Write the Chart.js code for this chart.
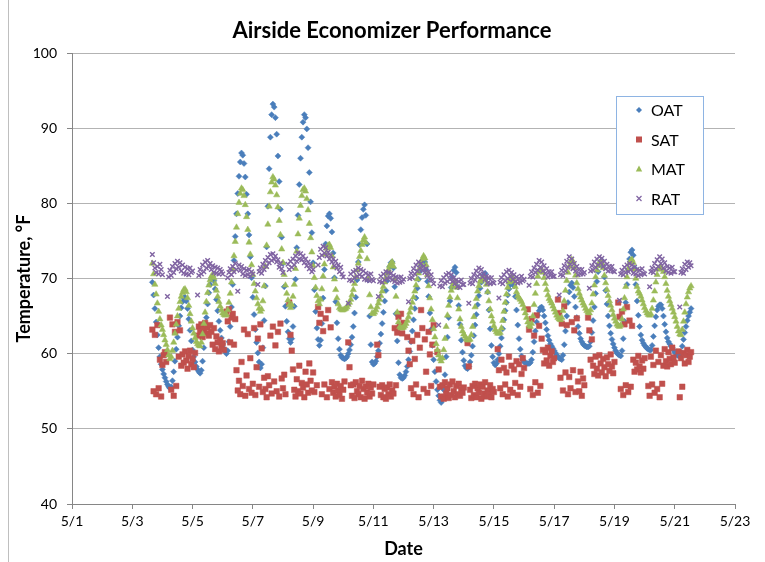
<!DOCTYPE html>
<html>
<head>
<meta charset="utf-8">
<title>Airside Economizer Performance</title>
<script src="https://cdn.jsdelivr.net/npm/chart.js@4.4.1/dist/chart.umd.min.js"></script>
<style>
  html, body { margin: 0; padding: 0; background: #fff; }
</style>
</head>
<body>
<canvas id="chart" width="765" height="562"></canvas>
<script>
// Tick labels for the date axis (every 2 days)
const dateLabels = ['5/1', '5/3', '5/5', '5/7', '5/9', '5/11', '5/13', '5/15', '5/17', '5/19', '5/21', '5/23'];

// First sample is 5/3 16:00, counted in hours from 5/1 00:00. All series hourly.
const firstHour = 64;

// Outside air temperature
const oat = [
    69.5, 67.8, 66.0, 64.2, 62.5, 60.8, 59.6, 58.6,
    57.9, 57.3, 56.8, 56.3, 55.9, 55.6, 55.4, 55.6, 56.4, 57.6, 59.0, 60.6, 62.2, 63.7, 65.0, 66.1, 66.9, 67.4, 67.5, 67.0, 66.0, 64.6, 63.1, 61.7,
    60.5, 59.6, 58.9, 58.3, 57.9, 57.6, 57.4, 57.8, 59.0, 60.8, 62.8, 64.8, 66.6, 68.1, 69.2, 69.9, 70.2, 69.7, 68.6, 67.2, 65.7, 64.3, 63.1, 62.1,
    61.3, 60.7, 60.3, 60.0, 60.4, 61.6, 63.6, 66.2, 69.2, 72.4, 75.6, 78.6, 81.3, 83.6, 85.5, 86.7, 86.4, 85.3, 83.5, 81.2, 78.6, 75.8, 72.9, 70.1,
    67.5, 65.2, 63.2, 61.5, 60.1, 58.9, 58.1, 58.6, 60.8, 64.4, 69.0, 74.2, 79.6, 84.6, 88.8, 91.8, 93.2, 92.8, 91.4, 89.2, 86.3, 82.9, 79.2, 75.5,
    72.0, 68.9, 66.3, 64.3, 62.9, 62.0, 61.5, 62.0, 63.6, 66.3, 69.9, 74.1, 78.4, 82.5, 86.0, 88.8, 90.8, 91.8, 91.4, 89.9, 87.4, 84.1, 80.2, 76.1,
    72.1, 68.5, 65.6, 63.4, 61.9, 61.1, 61.8, 64.0, 67.4, 71.2, 74.6, 77.0, 78.3, 78.6, 78.0, 76.2, 73.4, 70.1, 66.9, 64.1, 62.0, 60.6, 59.8, 59.5,
    59.4, 59.3, 59.4, 59.6, 60.0, 60.5, 61.2, 62.2, 63.6, 65.4, 67.5, 69.8, 72.2, 74.5, 76.5, 78.1, 79.2, 79.8, 78.4, 74.6, 69.8, 65.0, 61.2, 58.9,
    58.6, 58.7, 59.0, 59.6, 60.4, 61.4, 62.6, 64.0, 65.5, 67.0, 68.4, 69.7, 70.8, 71.6, 72.1, 72.2, 71.4, 68.9, 65.3, 61.7, 58.8, 57.2, 56.8, 56.7,
    56.8, 57.1, 57.6, 58.3, 59.2, 60.3, 61.6, 63.0, 64.5, 66.0, 67.4, 68.7, 69.9, 70.9, 71.7, 72.2, 72.5, 72.2, 71.2, 69.6, 67.6, 65.4, 63.2, 61.1,
    59.2, 57.6, 56.3, 55.2, 54.4, 53.8, 53.5, 53.9, 55.2, 57.2, 59.6, 62.2, 64.8, 67.0, 68.8, 70.2, 71.1, 71.5, 70.8, 68.9, 66.4, 63.9, 61.8, 60.2,
    59.1, 58.4, 58.1, 58.0, 58.3, 58.9, 59.8, 61.0, 62.4, 63.8, 65.2, 66.5, 67.7, 68.7, 69.5, 70.1, 70.5, 70.7, 70.0, 68.2, 65.8, 63.3, 61.1, 59.6,
    58.8, 58.5, 58.7, 59.2, 60.0, 61.0, 62.1, 63.3, 64.5, 65.7, 66.8, 67.8, 68.6, 69.2, 69.5, 69.6, 69.0, 67.6, 65.8, 63.8, 62.0, 60.6, 59.7, 59.2,
    58.9, 58.8, 58.7, 58.7, 58.7, 58.8, 59.2, 60.2, 61.6, 63.0, 64.2, 65.1, 65.7, 66.1, 66.2, 65.8, 65.0, 64.1, 63.2, 62.4, 61.8, 61.3, 61.0, 60.7,
    60.4, 60.1, 59.8, 59.6, 59.4, 59.3, 59.2, 59.8, 61.2, 63.0, 65.0, 66.8, 68.2, 69.1, 69.4, 68.8, 67.6, 66.2, 64.8, 63.6, 62.7, 62.0, 61.6, 61.3,
    61.1, 61.0, 60.9, 60.9, 61.0, 61.6, 62.8, 64.4, 66.2, 68.0, 69.6, 70.9, 71.8, 72.3, 72.4, 71.7, 70.2, 68.4, 66.6, 65.0, 63.7, 62.7, 61.9, 61.3,
    60.8, 60.4, 60.1, 59.9, 59.8, 59.7, 60.4, 62.0, 64.3, 66.8, 69.2, 71.2, 72.6, 73.5, 73.8, 73.1, 71.4, 69.2, 67.0, 65.1, 63.6, 62.5, 61.8, 61.4,
    61.1, 60.9, 60.7, 60.6, 60.5, 60.5, 61.1, 62.3, 63.7, 64.9, 65.8, 66.3, 66.5, 66.5, 66.0, 65.0, 63.9, 62.9, 62.1, 61.6, 61.3, 61.0, 60.8, 60.5,
    60.2, 60.0, 59.8, 59.7, 59.7, 60.2, 61.0, 61.9, 62.8, 63.6, 64.4, 65.0, 65.5, 66.0
];

// Supply air temperature (null = no reading)
const sat = [
    63.2, 55.0, 62.5, 54.6, 63.8, 55.4, 59.2, 54.3,
    58.5, 59.8, 60.2, 58.9, null, null, 64.8, 55.2, 63.9, 54.4, 62.9, 55.7, 64.2, 59.6, 63.1, 58.4, 59.9, 58.8, 60.3, 59.1, 58.0, 59.7, 60.4, 58.6,
    59.3, 58.2, 60.1, null, 62.4, 63.6, 62.9, 63.9, 62.2, 63.3, 64.1, 62.7, 63.5, 62.4, 63.8, 62.9, 61.2, 63.4, 60.6, 62.3, 61.5, 60.3, 61.8, 60.9,
    61.4, 60.5, null, 65.6, 64.3, 65.9, 61.5, 64.8, 65.3, 61.2, 64.6, 57.8, 55.1, 56.4, 54.6, 58.9, 55.7, 63.2, 54.4, 57.1, 62.6, 55.3, 59.4, 54.8,
    56.0, 63.4, 54.5, 58.2, 62.0, 55.6, 63.9, 60.7, 54.9, 56.8, 55.3, 54.2, 57.0, 55.8, 62.4, 54.7, 63.6, 56.3, 61.1, 55.0, 62.9, 54.3, 64.0, 56.7,
    55.4, 57.2, 54.6, null, null, 66.8, 62.5, 60.4, 57.9, 55.2, 54.3, 56.6, 55.0, 58.4, 54.7, 56.1, 55.5, 54.2, 57.6, 55.9, 54.8, 58.7, 56.4, 55.1,
    57.5, 54.9, null, 55.8, 66.2, 64.1, 65.3, 54.6, 63.0, 55.9, 64.7, 54.2, 65.8, 55.3, 63.5, 56.2, 54.8, 55.6, 54.3, 56.0, 55.1, 54.5, 55.7, 54.0,
    55.2, 56.3, null, null, 61.5, 58.2, 55.8, 54.4, 55.9, 54.1, 56.2, 55.0, 54.6, 55.7, 54.2, 56.4, 55.3, 54.0, 55.6, 54.8, 56.0, 54.3, 55.5, 54.7,
    55.9, null, null, 61.2, 59.8, 55.6, 54.5, 55.8, 54.2, 55.3, 54.0, 55.5, 54.6, 55.9, 54.3, 55.1, 54.7, 63.4, 55.8, 62.8, 64.9, 63.6, 65.3, 62.7,
    64.1, null, null, 62.2, 60.4, 58.6, 55.4, 61.7, 54.6, 59.3, 55.9, 62.5, 54.2, 60.8, 65.8, 63.4, 55.3, 61.9, 57.6, 54.8, 62.9, 59.9, 55.7, 61.2,
    63.8, null, null, 60.2, 57.9, 55.6, 54.3, 55.8, 54.0, 56.2, 54.7, 55.4, 54.1, 55.9, 54.5, 56.3, 55.0, 54.2, 55.7, 54.6, 56.0, 54.4, 55.3, 54.8,
    55.5, null, null, 61.4, 58.3, 55.2, 54.1, 55.7, 54.5, 56.0, 54.2, 55.4, 54.8, 55.9, 54.0, 55.6, 54.7, 56.2, 54.3, 55.1, 54.6, 55.8, 54.2, 55.3,
    54.9, null, null, 60.6, 57.8, 55.4, 59.2, 54.6, 58.1, 55.9, 57.5, 54.3, 59.6, 55.2, 58.4, 54.8, 57.9, 56.1, 59.0, 54.5, 58.6, 55.6, 57.3, 59.4,
    58.1, null, null, 65.9, 63.2, 55.3, 64.6, 54.5, 62.4, 56.2, 65.1, 54.8, 63.7, 55.7, 62.0, 60.5, 58.7, 60.2, 59.1, 60.8, 58.4, 59.7, 60.3, 58.9,
    59.4, null, null, 67.2, 65.4, 56.8, 64.0, 55.1, 66.3, 57.5, 63.8, 54.6, 56.9, 55.4, 64.2, 57.8, 63.1, 54.9, 64.7, 56.3, 55.0, 57.6, 54.4, 56.7,
    55.8, null, null, 64.8, 63.1, 59.2, 61.9, 58.4, 57.3, 59.6, 58.0, 57.1, 59.8, 58.7, 57.5, 59.3, 58.2, 57.0, 59.5, 58.6, 57.7, 59.9, 58.3, 57.4,
    58.9, null, null, 66.8, 64.9, 55.3, 65.6, 54.5, 63.9, 55.8, 66.2, 54.9, 64.4, 55.6, 63.7, 59.2, 57.6, 58.8, 57.9, 59.7, 58.3, 57.5, 59.1, 58.0,
    59.4, null, null, 55.7, 54.4, 59.6, 55.9, 58.5, 54.8, 60.4, 55.3, 58.9, 54.2, 59.8, 56.0, 58.4, 60.6, 59.0, 58.3, 60.2, 59.3, 58.6, 60.8, 59.5,
    58.8, null, null, 60.3, 54.2, 59.4, 55.6, 60.1, 58.7, 59.8, 60.5, 58.9, 59.6, 60.2
];

// Mixed air temperature
const mat = [
    72.0, 70.6, 69.2, 67.9, 66.7, 65.6, 64.6, 63.8,
    63.2, 62.5, 61.8, 61.2, 60.5, 59.8, 59.3, 59.6, 60.4, 61.5, 62.7, 63.9, 65.0, 66.0, 66.9, 67.6, 68.1, 68.5, 68.6, 68.2, 67.4, 66.4, 65.3, 64.3,
    63.4, 62.7, 62.1, 61.6, 61.3, 61.1, 61.0, 61.5, 62.6, 64.0, 65.5, 66.9, 68.1, 69.1, 69.8, 70.3, 70.5, 70.1, 69.3, 68.4, 67.6, 66.9, 66.3, 65.8,
    65.4, 65.2, 65.1, 65.2, 65.8, 66.8, 68.0, 69.5, 71.2, 73.0, 74.9, 76.8, 78.6, 80.1, 81.3, 82.0, 81.8, 81.0, 79.8, 78.2, 76.5, 74.8, 73.2, 71.8,
    70.5, 69.3, 68.3, 67.4, 66.6, 66.0, 65.6, 65.9, 67.0, 69.0, 71.6, 74.4, 77.2, 79.6, 81.5, 82.8, 83.5, 83.2, 82.4, 81.1, 79.5, 77.7, 75.8, 73.9,
    72.1, 70.5, 69.1, 68.0, 67.1, 66.5, 66.1, 66.5, 67.6, 69.2, 71.3, 73.6, 75.9, 78.0, 79.7, 81.0, 81.8, 82.0, 81.6, 80.6, 79.1, 77.3, 75.4, 73.5,
    71.7, 70.1, 68.8, 67.7, 67.0, 66.6, 67.2, 68.6, 70.3, 71.9, 73.2, 74.0, 74.4, 74.5, 74.1, 73.0, 71.5, 69.9, 68.5, 67.4, 66.6, 66.1, 65.9, 65.8,
    65.8, 65.9, 66.0, 66.2, 66.5, 66.8, 67.2, 67.8, 68.5, 69.3, 70.2, 71.1, 72.0, 72.9, 73.7, 74.5, 75.1, 75.5, 74.8, 72.6, 70.0, 67.8, 66.2, 65.4,
    65.3, 65.5, 65.8, 66.2, 66.7, 67.2, 67.7, 68.3, 68.9, 69.5, 70.1, 70.7, 71.2, 71.7, 72.0, 72.2, 71.6, 69.9, 67.6, 65.5, 64.2, 63.6, 63.4, 63.4,
    63.5, 63.7, 64.0, 64.4, 64.9, 65.5, 66.1, 66.8, 67.5, 68.3, 69.1, 69.9, 70.7, 71.4, 72.1, 72.6, 73.0, 72.7, 71.8, 70.5, 69.0, 67.4, 65.9, 64.5,
    63.3, 62.2, 61.3, 60.5, 59.8, 59.3, 59.0, 59.4, 60.5, 62.0, 63.6, 65.1, 66.4, 67.5, 68.4, 69.0, 69.4, 69.5, 68.8, 67.4, 65.9, 64.6, 63.6, 63.0,
    62.6, 62.3, 62.0, 61.8, 61.8, 61.9, 62.5, 63.6, 64.9, 66.2, 67.3, 68.3, 69.0, 69.6, 69.9, 70.0, 70.0, 69.8, 69.2, 68.2, 67.0, 65.9, 65.0, 64.3,
    63.7, 63.2, 62.9, 62.7, 62.7, 62.8, 63.4, 64.4, 65.6, 66.8, 67.9, 68.8, 69.5, 70.0, 70.2, 70.1, 69.6, 68.9, 68.2, 67.7, 67.4, 67.2, 66.9, 66.5,
    66.0, 65.4, 64.8, 64.2, 63.8, 63.6, 64.0, 65.0, 66.5, 68.0, 69.3, 70.3, 70.9, 71.2, 71.2, 70.8, 70.1, 69.3, 68.5, 67.8, 67.3, 67.0, 66.7, 66.3,
    65.9, 65.5, 65.1, 64.8, 64.6, 64.5, 64.8, 65.7, 67.0, 68.4, 69.7, 70.8, 71.6, 72.2, 72.5, 72.2, 71.4, 70.4, 69.4, 68.6, 68.0, 67.5, 67.1, 66.7,
    66.4, 66.0, 65.7, 65.5, 65.4, 65.8, 66.7, 67.9, 69.1, 70.2, 71.1, 71.7, 72.1, 72.2, 72.0, 71.4, 70.4, 69.4, 68.5, 67.7, 67.0, 66.4, 65.8, 65.2,
    64.7, 64.3, 63.9, 63.7, 63.6, 63.8, 64.6, 65.9, 67.4, 68.9, 70.2, 71.3, 72.0, 72.4, 72.5, 72.1, 71.2, 70.0, 68.9, 68.3, 68.0, 67.6, 67.1, 66.6,
    66.1, 65.7, 65.4, 65.2, 65.1, 65.3, 66.0, 67.1, 68.3, 69.5, 70.5, 71.2, 71.5, 71.5, 71.3, 70.9, 70.2, 69.3, 68.4, 67.6, 67.0, 66.5, 66.0, 65.5,
    64.9, 64.3, 63.6, 63.0, 62.6, 62.5, 63.2, 64.3, 65.5, 66.6, 67.5, 68.2, 68.7, 69.0
];

// Return air temperature (null = unit off)
const rat = [
    73.2, 72.1, 71.4, 70.8, 71.6, 70.6, 71.9, 71.2,
    70.5, null, null, null, 67.6, 70.2, 71.1, 70.4, 71.6, 70.8, 72.0, 71.3, 72.3, 71.5, 72.1, 71.0, 71.8, 70.7, 71.5, 70.6, 71.3, 70.5, 71.4, 70.8,
    71.0, null, null, null, 67.8, 70.4, 71.2, 70.6, 71.8, 70.9, 72.2, 71.4, 72.4, 71.6, 72.0, 71.2, 71.7, 70.8, 71.5, 70.7, 71.4, 70.6, 71.2, 70.9,
    70.6, null, null, null, 70.1, 70.8, 71.3, 70.5, 71.6, 70.9, 72.0, 71.2, 68.3, 71.8, 71.1, 71.6, 70.6, 71.3, 70.4, 71.1, 70.5, 71.2, 70.3, 70.9,
    70.6, null, null, null, 69.2, 70.9, 71.4, 70.7, 71.9, 71.2, 72.4, 71.6, 72.8, 72.1, 73.2, 72.4, 73.3, 72.6, 73.0, 72.2, 72.5, 71.5, 72.0, 71.3,
    70.8, null, null, null, 71.9, 71.2, 72.3, 71.5, 72.6, 71.8, 73.0, 72.3, 73.4, 72.6, 73.3, 72.5, 73.0, 72.1, 72.6, 71.7, 72.2, 71.3, 71.8, 70.9,
    71.2, null, null, null, 71.8, 72.8, 73.9, 73.1, 74.3, 73.4, 74.1, 73.0, 73.5, 72.6, 73.1, 72.2, 72.6, 71.7, 72.3, 71.4, 71.8, 70.9, 71.5, 70.6,
    70.2, null, null, null, 66.7, 69.8, 70.6, 69.7, 70.9, 70.1, 71.1, 70.3, 71.4, 70.5, 71.2, 70.3, 71.0, 69.9, 70.7, 69.8, 70.5, 69.7, 70.6, 69.9,
    69.7, null, null, null, 67.6, 69.6, 70.3, 69.5, 70.6, 69.8, 70.9, 70.0, 70.8, 70.1, 70.7, 69.8, 70.4, 69.6, 70.2, 69.4, 70.1, 69.5, 70.2, 69.6,
    69.9, null, null, null, 66.9, 70.0, 70.7, 70.1, 71.3, 70.6, 71.8, 71.0, 72.2, 71.4, 72.0, 71.1, 71.6, 70.8, 71.3, 70.4, 70.9, 69.9, 70.5, 69.8,
    69.3, null, null, null, 63.8, 69.0, 69.7, 68.9, 70.1, 69.4, 70.5, 69.6, 70.7, 69.9, 70.5, 69.6, 70.1, 69.3, 69.8, 68.9, 69.6, 68.8, 69.8, 69.2,
    69.2, null, null, null, 66.7, 69.4, 70.0, 69.3, 70.5, 69.8, 71.0, 70.3, 71.4, 70.6, 71.2, 70.2, 70.6, 69.9, 70.3, 69.4, 70.1, 69.3, 70.1, 69.5,
    69.4, null, null, null, 67.4, 69.5, 70.1, 69.3, 70.5, 69.7, 70.9, 70.0, 71.1, 70.3, 70.8, 69.9, 70.5, 69.6, 70.2, 69.4, 70.0, 69.5, 70.3, 69.7,
    69.9, null, null, null, 69.1, 70.3, 70.9, 70.2, 71.4, 70.8, 71.9, 71.1, 72.4, 71.5, 72.2, 71.0, 71.7, 70.7, 71.3, 70.2, 70.9, 70.4, 70.9, 70.3,
    70.3, null, null, null, 67.8, 70.5, 71.1, 70.4, 71.7, 71.0, 72.3, 71.5, 72.9, 71.9, 72.6, 71.3, 72.0, 71.0, 71.6, 70.5, 71.2, 70.6, 71.2, 70.6,
    70.8, null, null, null, 68.7, 71.0, 71.7, 71.1, 72.2, 71.5, 72.6, 71.8, 72.9, 72.1, 72.7, 71.6, 72.3, 71.3, 71.9, 71.0, 71.6, 71.1, 71.6, 71.0,
    70.9, null, null, null, 67.1, 70.6, 71.1, 70.5, 71.5, 70.8, 71.8, 70.9, 72.0, 71.2, 71.8, 70.7, 71.5, 70.6, 71.2, 70.4, 71.1, 70.5, 71.3, 70.7,
    70.6, null, null, null, 68.9, 70.9, 71.4, 70.8, 72.0, 71.3, 72.5, 71.6, 72.9, 72.0, 72.6, 71.4, 72.1, 71.0, 71.6, 70.8, 71.4, 70.7, 71.5, 70.9,
    70.9, null, null, null, 66.2, 70.8, 71.3, 70.7, 71.9, 71.2, 72.2, 71.5, 72.1, 71.7
];

// turn an hourly value list into {x: day of May, y} points
function toPoints(values) {
    return values.map((v, i) => ({ x: 1 + (firstHour + i) / 24, y: v }));
}

const font = 'Lato';

// white background, frame line on the left and the chart title
const chartFrame = {
    id: 'chartFrame',
    beforeDraw(chart) {
        const ctx = chart.ctx;
        ctx.save();
        ctx.fillStyle = '#ffffff';
        ctx.fillRect(0, 0, chart.width, chart.height);
        ctx.strokeStyle = '#bfbfbf';
        ctx.lineWidth = 1;
        ctx.beginPath();
        ctx.moveTo(8.5, 0);
        ctx.lineTo(8.5, chart.height);
        ctx.stroke();
        ctx.fillStyle = '#000000';
        ctx.font = 'bold 22px ' + font;
        ctx.textAlign = 'center';
        ctx.textBaseline = 'middle';
        ctx.fillText('Airside Economizer Performance', 392, 31);
        ctx.restore();
    }
};

// small marker for the legend box
function legendMarker(ctx, style, color, x, y) {
    ctx.fillStyle = color;
    ctx.strokeStyle = color;
    ctx.beginPath();
    if (style === 'rectRot') {
        ctx.moveTo(x, y - 3); ctx.lineTo(x + 3, y); ctx.lineTo(x, y + 3); ctx.lineTo(x - 3, y);
        ctx.closePath(); ctx.fill();
    } else if (style === 'rect') {
        ctx.fillRect(x - 3, y - 3, 6, 6);
    } else if (style === 'triangle') {
        ctx.moveTo(x, y - 3.5); ctx.lineTo(x + 3.2, y + 2.5); ctx.lineTo(x - 3.2, y + 2.5);
        ctx.closePath(); ctx.fill();
    } else {
        ctx.lineWidth = 1.2;
        ctx.moveTo(x - 2.5, y - 2.5); ctx.lineTo(x + 2.5, y + 2.5);
        ctx.moveTo(x + 2.5, y - 2.5); ctx.lineTo(x - 2.5, y + 2.5);
        ctx.stroke();
    }
}

// legend drawn as a boxed list inside the plot, like the original
const boxLegend = {
    id: 'boxLegend',
    afterDraw(chart) {
        const ctx = chart.ctx;
        ctx.save();
        ctx.fillStyle = '#ffffff';
        ctx.fillRect(616.5, 96.5, 87, 118);
        ctx.strokeStyle = '#8eb4e3';
        ctx.lineWidth = 1;
        ctx.strokeRect(616.5, 96.5, 87, 118);
        ctx.font = '16px ' + font;
        ctx.textBaseline = 'middle';
        chart.data.datasets.forEach((ds, i) => {
            const y = 110 + i * 29.5;
            legendMarker(ctx, ds.pointStyle, ds.backgroundColor, 639, y);
            ctx.fillStyle = '#000000';
            ctx.fillText(ds.label, 651, y + 1);
        });
        ctx.restore();
    }
};

function series(label, values, style, color, radius, order) {
    return {
        label: label,
        data: toPoints(values),
        pointStyle: style,
        backgroundColor: color,
        borderColor: color,
        borderWidth: style === 'crossRot' ? 1.4 : 0.5,
        pointRadius: radius,
        order: order
    };
}

new Chart(document.getElementById('chart'), {
    type: 'scatter',
    data: {
        datasets: [
            series('OAT', oat, 'rectRot', '#4a7ebb', 3, 3),
            series('SAT', sat, 'rect', '#c0504d', 3.9, 2),
            series('MAT', mat, 'triangle', '#9bbb59', 3.6, 1),
            series('RAT', rat, 'crossRot', '#8064a2', 3.2, 0)
        ]
    },
    options: {
        responsive: false,
        animation: false,
        layout: { padding: { left: 0, right: 30, top: 53, bottom: 0 } },
        plugins: {
            legend: { display: false },
            tooltip: { enabled: false },
            title: { display: false }
        },
        scales: {
            x: {
                type: 'linear',
                min: 1,
                max: 23,
                ticks: {
                    stepSize: 2,
                    autoSkip: false,
                    maxRotation: 0,
                    padding: 4,
                    color: '#000000',
                    font: { family: font, size: 14 },
                    callback: (value, index) => dateLabels[index]
                },
                grid: { drawOnChartArea: false, tickLength: 5, color: '#868686' },
                border: { color: '#868686' },
                title: {
                    display: true,
                    text: 'Date',
                    color: '#000000',
                    font: { family: font, size: 18, weight: 'bold' },
                    padding: { top: 2, bottom: 2 }
                },
                afterFit(scale) { scale.height = 58; }
            },
            y: {
                min: 40,
                max: 100,
                ticks: {
                    stepSize: 10,
                    padding: 10,
                    color: '#000000',
                    font: { family: font, size: 14 }
                },
                grid: { color: '#b3b3b3', tickColor: '#868686', tickLength: 5 },
                border: { color: '#868686' },
                title: {
                    display: true,
                    text: 'Temperature, °F',
                    color: '#000000',
                    font: { family: font, size: 18, weight: 'bold' },
                    padding: { top: 13, bottom: 0 }
                },
                afterFit(scale) { scale.width = 72; }
            }
        }
    },
    plugins: [chartFrame, boxLegend]
});
</script>
</body>
</html>
